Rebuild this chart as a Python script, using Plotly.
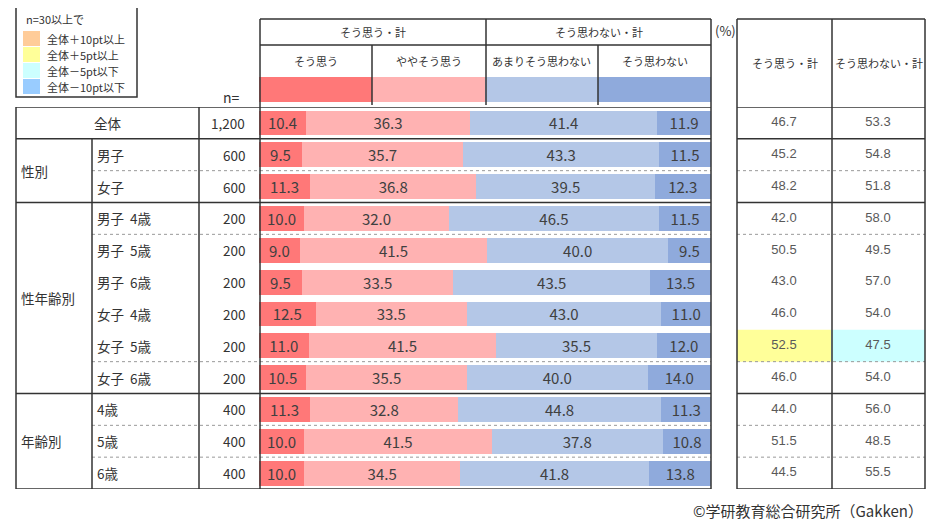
import plotly.graph_objects as go

# page body adds an 8px margin; the figure is sized to fit inside it
OFF = 8
W, H = 948 - 2 * OFF, 529 - 2 * OFF

# ── data ────────────────────────────────────────────────────────────
row_labels = ['全体', '男子', '女子',
              '男子\u00a0\u00a04歳', '男子\u00a0\u00a05歳', '男子\u00a0\u00a06歳',
              '女子\u00a0\u00a04歳', '女子\u00a0\u00a05歳', '女子\u00a0\u00a06歳',
              '4歳', '5歳', '6歳']
n_values = ['1,200', '600', '600', '200', '200', '200', '200', '200', '200', '400', '400', '400']

series_names = ['そう思う', 'ややそう思う', 'あまりそう思わない', 'そう思わない']
agree_strong = [10.4, 9.5, 11.3, 10.0, 9.0, 9.5, 12.5, 11.0, 10.5, 11.3, 10.0, 10.0]
agree_some = [36.3, 35.7, 36.8, 32.0, 41.5, 33.5, 33.5, 41.5, 35.5, 32.8, 41.5, 34.5]
disagree_some = [41.4, 43.3, 39.5, 46.5, 40.0, 43.5, 43.0, 35.5, 40.0, 44.8, 37.8, 41.8]
disagree_strong = [11.9, 11.5, 12.3, 11.5, 9.5, 13.5, 11.0, 12.0, 14.0, 11.3, 10.8, 13.8]

total_names = ['そう思う・計', 'そう思わない・計']
agree_total = [46.7, 45.2, 48.2, 42.0, 50.5, 43.0, 46.0, 52.5, 46.0, 44.0, 51.5, 44.5]
disagree_total = [53.3, 54.8, 51.8, 58.0, 49.5, 57.0, 54.0, 47.5, 54.0, 56.0, 48.5, 55.5]

group_names = ['性別', '性年齢別', '年齢別']
group_rows = [(1, 2), (3, 8), (9, 11)]
solid_after = [0, 2, 8]
dashed_after = [1, 3, 7, 9, 10]

legend_labels = ['全体＋10pt以上', '全体＋5pt以上', '全体－5pt以下', '全体－10pt以下']

# ── style ───────────────────────────────────────────────────────────
BAR_COLORS = ['#FF7878', '#FFB2B2', '#B4C7E7', '#8FAADC']
LEGEND_COLORS = ['#FFCC99', '#FFFF99', '#CCFFFF', '#99CCFF']
LINE = '#333333'
DASH = '#999999'
TXT = '#333333'
JP = 'Noto Sans CJK JP'


def X(p):
    return (p - OFF) / W


def Y(p):
    return 1 - (p - OFF) / H


rows = list(range(len(row_labels)))
n_rows = len(rows)
y_bot, y_top = Y(489), Y(107)

fig = go.Figure()

for name, vals, color in zip(series_names,
                             [agree_strong, agree_some, disagree_some, disagree_strong],
                             BAR_COLORS):
    fig.add_trace(go.Bar(
        x=vals, y=rows, orientation='h', name=name,
        marker=dict(color=color, line=dict(width=0)),
        texttemplate='%{x:.1f}', textposition='inside', insidetextanchor='middle',
        textangle=0, textfont=dict(family=JP, size=15, color='#404040'),
        showlegend=False, hoverinfo='skip',
    ))

# right table values
for ci, vals in enumerate([agree_total, disagree_total]):
    fig.add_trace(go.Scatter(
        x=[ci + 0.5] * n_rows, y=rows, mode='text', xaxis='x2', yaxis='y',
        text=[f'{v:.1f}' for v in vals],
        textfont=dict(family='Liberation Sans', size=13, color='#595959'),
        showlegend=False, hoverinfo='skip',
    ))

shapes = []
annotations = []


def hline(y, x0, x1, dash=False, yref='y'):
    shapes.append(dict(type='line', xref='paper', yref=yref, x0=X(x0), x1=X(x1), y0=y, y1=y,
                       line=dict(color=DASH if dash else LINE, width=1 if dash else 1.5,
                                 dash='dot' if dash else 'solid')))


def vline(x, y0, y1):
    shapes.append(dict(type='line', xref='paper', yref='paper', x0=X(x), x1=X(x), y0=y0, y1=y1,
                       line=dict(color=LINE, width=1.5)))


def label(text, x, y, size=13.5, anchor='center', yref='y', color=TXT, family=JP):
    annotations.append(dict(text=text, x=X(x), y=y, xref='paper', yref=yref, showarrow=False,
                            xanchor=anchor, yanchor='middle',
                            font=dict(family=family, size=size, color=color)))


# highlight cells in right table (compare with 全体)
for ci, vals in enumerate([agree_total, disagree_total]):
    base = vals[0]
    for i in rows[1:]:
        d = vals[i] - base
        col = None
        if d >= 10:
            col = LEGEND_COLORS[0]
        elif d >= 5:
            col = LEGEND_COLORS[1]
        elif d <= -10:
            col = LEGEND_COLORS[3]
        elif d <= -5:
            col = LEGEND_COLORS[2]
        if col:
            shapes.append(dict(type='rect', xref='x2', yref='y', x0=ci, x1=ci + 1,
                               y0=i - 0.5, y1=i + 0.5, fillcolor=col, line=dict(width=0),
                               layer='below'))

# header swatches above bars
for k, color in enumerate(BAR_COLORS):
    shapes.append(dict(type='rect', xref='x', yref='paper', x0=k * 25, x1=(k + 1) * 25,
                       y0=Y(102), y1=Y(77), fillcolor=color, line=dict(width=0)))

# row separators
hline(-0.5, 16, 711)
hline(n_rows - 0.5, 16, 711)
hline(-0.5, 737, 925)
hline(n_rows - 0.5, 737, 925)
for i in solid_after:
    hline(i + 0.5, 16, 711)
    hline(i + 0.5, 737, 925)
for i in dashed_after:
    hline(i + 0.5, 92, 711, dash=True)
    hline(i + 0.5, 737, 925, dash=True)

# left table verticals
vline(16, y_bot, y_top)
vline(199, y_bot, y_top)
shapes.append(dict(type='line', xref='paper', yref='y', x0=X(92), x1=X(92), y0=0.5,
                   y1=n_rows - 0.5, line=dict(color=LINE, width=1.5)))
vline(260, y_bot, Y(19))
vline(711, y_bot, Y(19))

# bar header grid
hline(Y(19), 260, 711, yref='paper')
hline(Y(45), 260, 711, yref='paper')
vline(486, Y(105), Y(19))
vline(372, Y(105), Y(45))
vline(598, Y(105), Y(45))

# right table grid
hline(Y(19), 737, 925, yref='paper')
vline(737, y_bot, Y(19))
vline(832, y_bot, Y(19))
vline(925, y_bot, Y(19))

# legend box
shapes.append(dict(type='rect', xref='paper', yref='paper', x0=X(16), x1=X(137),
                   y0=Y(97), y1=Y(7), line=dict(color=LINE, width=1.5)))
label('n=30以上で', 24, Y(19), size=11, anchor='left', yref='paper')
for k, (lab, color) in enumerate(zip(legend_labels, LEGEND_COLORS)):
    top = 31 + k * 16
    shapes.append(dict(type='rect', xref='paper', yref='paper', x0=X(23), x1=X(40),
                       y0=Y(top + 15), y1=Y(top), fillcolor=color, line=dict(width=0)))
    label(lab, 45, Y(top + 7.5), size=11, anchor='left', yref='paper')

# header texts
label('そう思う・計', 373, Y(32), size=11, yref='paper')
label('そう思わない・計', 598.5, Y(32), size=11, yref='paper')
for k, name in enumerate(series_names):
    label(name, 260 + 451 / 8 * (2 * k + 1), Y(61), size=11, yref='paper')
label('(%)', 713, Y(30), size=13, anchor='left', yref='paper')
label(total_names[0], 784.5, Y(63), size=11, yref='paper')
label(total_names[1], 878.5, Y(63), size=11, yref='paper')
label('n=', 221, Y(97), size=14, anchor='left', yref='paper')

# row labels
label(row_labels[0], 107.5, 0)
for i in rows[1:]:
    label(row_labels[i], 95, i, anchor='left')
for i in rows:
    label(n_values[i], 247, i, anchor='right')
for name, (a, b) in zip(group_names, group_rows):
    label(name, 19, (a + b) / 2, anchor='left')

label('©学研教育総合研究所（Gakken）', 925, Y(510), size=15, anchor='right', yref='paper')

fig.update_layout(
    width=W, height=H,
    margin=dict(l=0, r=0, t=0, b=0),
    paper_bgcolor='white', plot_bgcolor='white',
    barmode='stack', bargap=0.22,
    uniformtext=dict(mode='show', minsize=15),
    xaxis=dict(domain=[X(259), X(711)], range=[0, 100], visible=False, fixedrange=True),
    xaxis2=dict(domain=[X(737), X(925)], range=[0, 2], visible=False, anchor='y'),
    yaxis=dict(domain=[y_bot, y_top], range=[n_rows - 0.5, -0.5], visible=False),
    shapes=shapes,
    annotations=annotations,
)

fig.write_html('out.html')
